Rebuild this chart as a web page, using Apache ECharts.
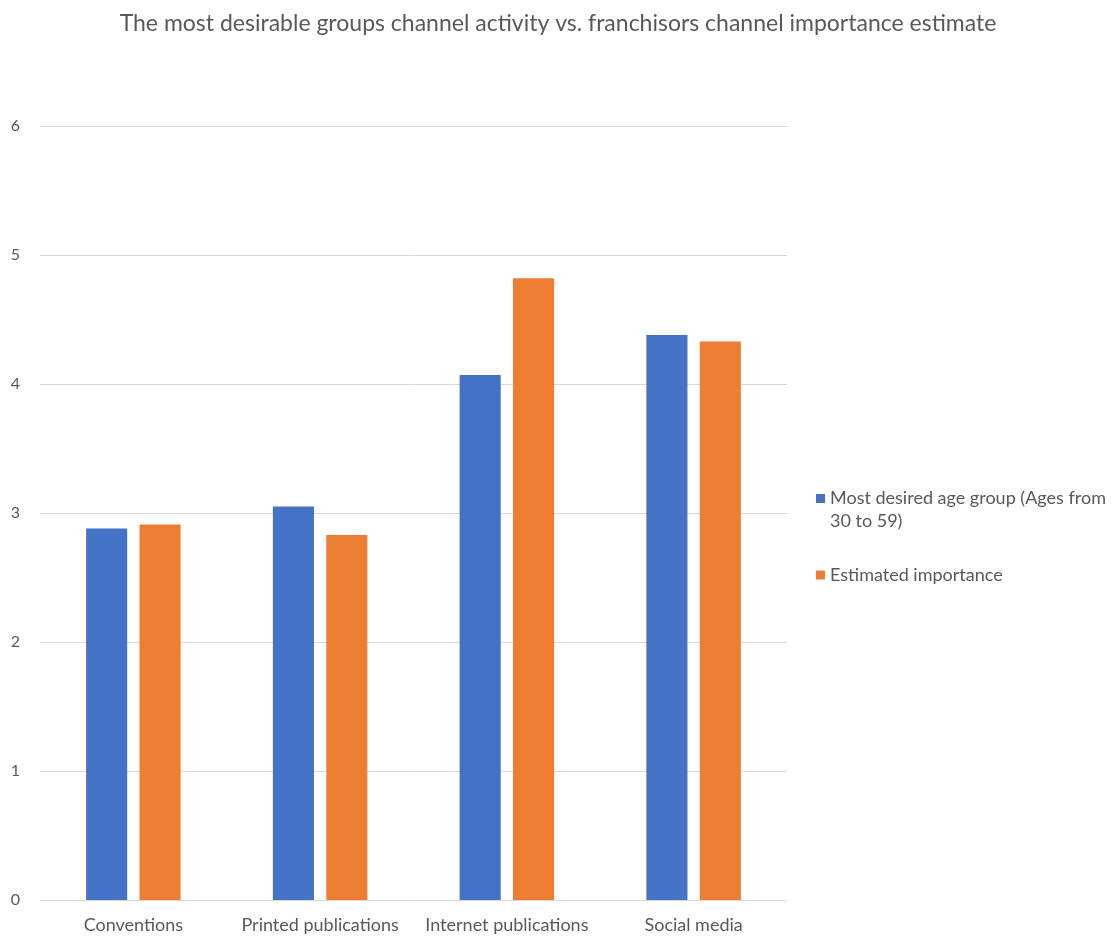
<!DOCTYPE html>
<html>
<head>
<meta charset="utf-8">
<script src="https://cdn.jsdelivr.net/npm/echarts@6/dist/echarts.min.js"></script>
<style>
  html, body { margin: 0; padding: 0; background: #fff; }
  #chart { width: 1116px; height: 936px; }
</style>
</head>
<body>
<div id="chart"></div>
<script>
const categories = ['Conventions', 'Printed publications', 'Internet publications', 'Social media'];
const seriesNames = ['Most desired age group (Ages from 30 to 59)', 'Estimated importance'];
const ageGroupValues = [2.88, 3.05, 4.07, 4.38];
const importanceValues = [2.91, 2.83, 4.82, 4.33];

const textColor = '#595959';
const fontFamily = 'Lato, "Open Sans", sans-serif';

// Legend markers: a 9px square inside a 9x32 box. The first sits at the top so
// it lines up with the first line of the wrapped name; the second is centred.
const topSquareIcon = 'path://M0,0h9v9h-9z M0,32';
const midSquareIcon = 'path://M0,0 M0,11.5h9v9h-9z M0,32';

const chart = echarts.init(document.getElementById('chart'));
chart.setOption({
  animation: false,
  textStyle: { fontFamily: fontFamily },
  title: {
    text: 'The most desirable groups channel activity vs. franchisors channel importance estimate',
    left: 'center',
    top: 7,
    textStyle: { color: textColor, fontSize: 23, fontWeight: 'normal', fontFamily: fontFamily }
  },
  legend: {
    orient: 'vertical',
    left: 811,
    top: 482,
    itemWidth: 9,
    itemHeight: 32,
    itemGap: 26,
    textStyle: { color: textColor, fontSize: 18, lineHeight: 23, fontFamily: fontFamily },
    data: [
      { name: seriesNames[0], icon: topSquareIcon },
      { name: seriesNames[1], icon: midSquareIcon }
    ],
    formatter: function (name) {
      return name === seriesNames[0] ? 'Most desired age group (Ages from\n30 to 59)' : name;
    }
  },
  grid: { left: 40, right: 329, top: 126, bottom: 36, containLabel: false },
  xAxis: {
    type: 'category',
    data: categories,
    axisLine: { lineStyle: { color: '#d9d9d9' } },
    axisTick: { show: false },
    axisLabel: { color: textColor, fontSize: 18, margin: 16, interval: 0, fontFamily: fontFamily }
  },
  yAxis: {
    type: 'value',
    min: 0,
    max: 6,
    interval: 1,
    axisLine: { show: false },
    axisTick: { show: false },
    axisLabel: { color: textColor, fontSize: 16, margin: 20, fontFamily: fontFamily },
    splitLine: { lineStyle: { color: '#d9d9d9' } }
  },
  series: [
    {
      name: seriesNames[0],
      type: 'bar',
      data: ageGroupValues,
      barWidth: '22%',
      barGap: '30%',
      itemStyle: { color: '#4472c4' }
    },
    {
      name: seriesNames[1],
      type: 'bar',
      data: importanceValues,
      barWidth: '22%',
      itemStyle: { color: '#ed7d31' }
    }
  ]
});
</script>
</body>
</html>
